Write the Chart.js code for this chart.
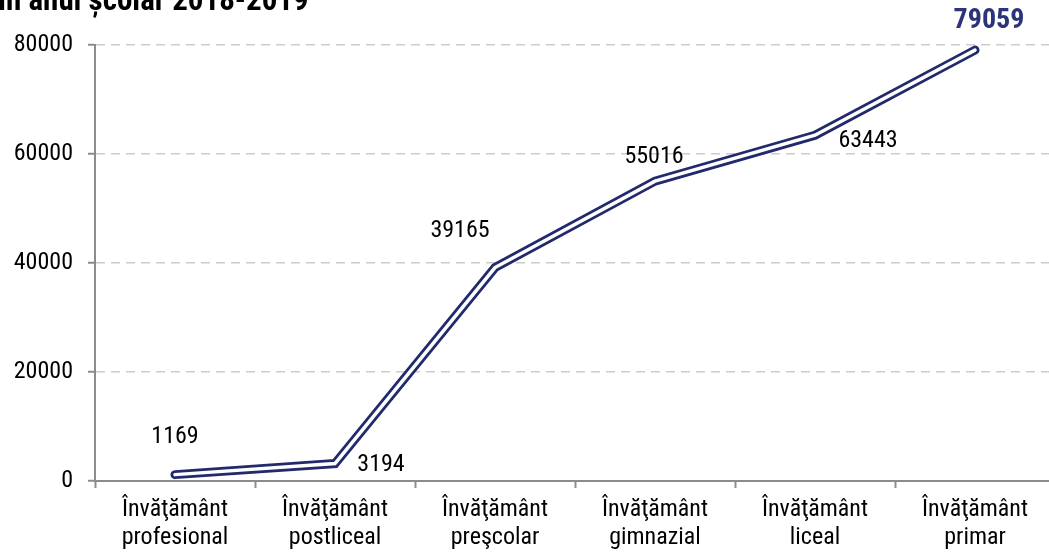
<!DOCTYPE html>
<html>
<head>
<meta charset="utf-8">
<script src="https://cdn.jsdelivr.net/npm/chart.js@4/dist/chart.umd.min.js"></script>
<style>
  html, body { margin:0; padding:0; background:#fff; overflow:hidden; }
  #wrap { position:relative; width:1049px; height:558px; overflow:hidden; }
  #title { position:absolute; left:-2px; top:-16px; font:bold 31px 'Roboto Condensed','Liberation Sans',Arial,sans-serif; line-height:31px; color:#000; white-space:nowrap; }
  #box { position:absolute; left:0; top:0; width:1055px; height:558px; }
</style>
</head>
<body>
<div id="wrap">
  <div id="box"><canvas id="c"></canvas></div>
  <div id="title">în anul școlar 2018-2019</div>
</div>
<script>
'use strict';

const categories = [
  ['Învăţământ', 'profesional'],
  ['Învăţământ', 'postliceal'],
  ['Învăţământ', 'preşcolar'],
  ['Învăţământ', 'gimnazial'],
  ['Învăţământ', 'liceal'],
  ['Învăţământ', 'primar']
];
const elevi = [1169, 3194, 39165, 55016, 63443, 79059];
const yTicks = [0, 20000, 40000, 60000, 80000];

// label placement around each point (dx, dy from the point)
const labelPos = [[0, -38], [46, 1], [-35, -37], [-1, -24], [53, 6], [14, -29]];

const FONT = "'Roboto Condensed','Liberation Sans',Arial,sans-serif";
const NAVY = '#222A6C';

const valueLabels = {
  id: 'valueLabels',
  afterDatasetsDraw(chart) {
    const ctx = chart.ctx;
    const meta = chart.getDatasetMeta(0);
    ctx.save();
    ctx.textAlign = 'center';
    ctx.textBaseline = 'middle';
    meta.data.forEach((pt, i) => {
      const last = i === elevi.length - 1;
      ctx.font = (last ? 'bold 28px ' : '24px ') + FONT;
      ctx.fillStyle = last ? '#2B3478' : '#000';
      ctx.fillText(String(elevi[i]), pt.x + labelPos[i][0], pt.y + labelPos[i][1]);
    });
    ctx.restore();
  }
};

new Chart(document.getElementById('c'), {
  type: 'line',
  data: {
    labels: categories,
    datasets: [
      { data: elevi, borderColor: '#ffffff', borderWidth: 3.5, pointRadius: 0, tension: 0, borderCapStyle: 'round', borderJoinStyle: 'miter', order: 1 },
      { data: elevi, borderColor: NAVY, borderWidth: 9, pointRadius: 0, tension: 0, borderCapStyle: 'round', borderJoinStyle: 'miter', order: 2 }
    ]
  },
  options: {
    responsive: true,
    maintainAspectRatio: false,
    animation: false,
    layout: { padding: { top: 45, left: 0, right: 0, bottom: 0 } },
    plugins: { legend: { display: false }, tooltip: { enabled: false }, title: { display: false } },
    scales: {
      x: {
        offset: true,
        afterFit(s) { s.height = 77; },
        grid: { offset: true, drawOnChartArea: false, drawTicks: true, tickLength: 7, tickColor: '#8C8C8C', tickWidth: 2 },
        border: { display: true, color: '#8C8C8C', width: 2 },
        ticks: { color: '#000', font: { family: FONT, size: 24, lineHeight: 1.18 }, padding: 8, maxRotation: 0, autoSkip: false }
      },
      y: {
        min: 0, max: 80000,
        afterFit(s) { s.width = 95; },
        afterBuildTicks(s) { s.ticks = yTicks.map(v => ({ value: v })); },
        grid: { color: '#CCCCCC', lineWidth: 1.5, tickBorderDash: [], drawTicks: true, tickLength: 7, tickColor: '#8C8C8C', tickWidth: 2 },
        border: { display: true, color: '#8C8C8C', width: 2, dash: [9, 6] },
        ticks: { color: '#000', font: { family: FONT, size: 24 }, padding: 15, callback: v => String(v) }
      }
    }
  },
  plugins: [valueLabels]
});
</script>
</body>
</html>
